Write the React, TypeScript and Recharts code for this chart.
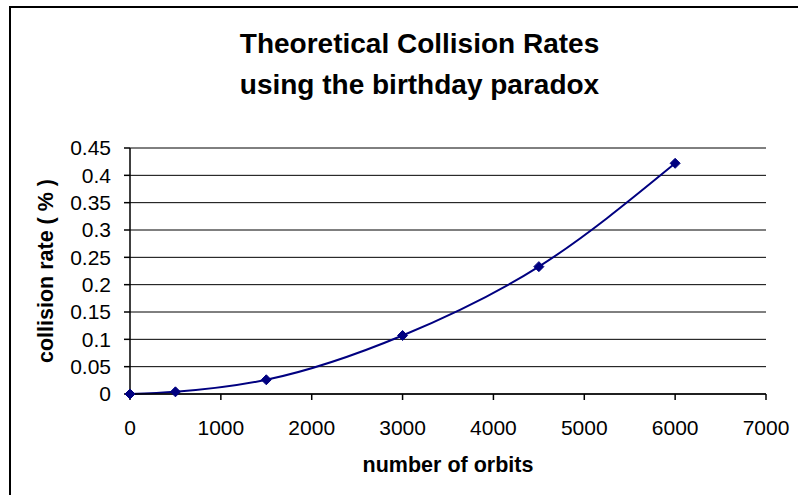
import { LineChart, Line, XAxis, YAxis, CartesianGrid, Label } from 'recharts';

const orbits = [0, 500, 1500, 3000, 4500, 6000];
const collisionRate = [0, 0.004, 0.026, 0.107, 0.233, 0.422];
const xTicks = [0, 1000, 2000, 3000, 4000, 5000, 6000, 7000];
const yTicks = [0, 0.05, 0.1, 0.15, 0.2, 0.25, 0.3, 0.35, 0.4, 0.45];
const titleLines = ['Theoretical Collision Rates', 'using the birthday paradox'];

const FONT = '"Liberation Sans", Arial, sans-serif';
const NAVY = '#000080';

const chartData = orbits.map((n, i) => ({ orbits: n, rate: collisionRate[i] }));

// diamond marker like the old Excel series marker
const Diamond = (props: { cx?: number; cy?: number; index?: number }) => {
  const { cx, cy, index } = props;
  if (cx == null || cy == null) return null;
  const r = 5;
  return (
    <polygon
      key={`d-${index}`}
      points={`${cx},${cy - r} ${cx + r},${cy} ${cx},${cy + r} ${cx - r},${cy}`}
      fill={NAVY}
      stroke={NAVY}
      strokeWidth={1}
    />
  );
};

export default function App() {
  return (
    <div
      style={{
        position: 'relative',
        width: 798,
        height: 495,
        overflow: 'hidden',
        background: '#fff',
        fontFamily: FONT,
      }}
    >
      <style>{'body{margin:0}'}</style>
      {/* chart frame, its right and bottom edges fall outside the picture */}
      <div
        style={{
          position: 'absolute',
          left: 9,
          top: 6,
          width: 820,
          height: 520,
          border: '2px solid #000',
          boxSizing: 'border-box',
        }}
      />
      <div
        style={{
          position: 'absolute',
          left: 0,
          top: 23,
          width: 839,
          textAlign: 'center',
          fontSize: 28,
          fontWeight: 'bold',
          lineHeight: '41px',
          color: '#000',
        }}
      >
        {titleLines.map(t => (
          <div key={t}>{t}</div>
        ))}
      </div>
      <div style={{ position: 'absolute', left: 0, top: 0 }}>
        <LineChart
          width={798}
          height={495}
          data={chartData}
          margin={{ top: 148, right: 32, left: 10, bottom: 41 }}
        >
          <CartesianGrid horizontal vertical={false} stroke="#000" strokeWidth={1} />
          <XAxis
            type="number"
            dataKey="orbits"
            domain={[0, 7000]}
            ticks={xTicks}
            interval={0}
            height={60}
            stroke="#000"
            strokeWidth={1.5}
            tickSize={6}
            tickMargin={20}
            tick={{ fill: '#000', fontSize: 21, fontFamily: FONT }}
          >
            <Label
              content={({ viewBox }: any) => (
                <text
                  x={viewBox.x + viewBox.width / 2}
                  y={viewBox.y + 78}
                  textAnchor="middle"
                  fontSize={21.5}
                  fontWeight="bold"
                  fontFamily={FONT}
                  fill="#000"
                >
                  number of orbits
                </text>
              )}
            />
          </XAxis>
          <YAxis
            type="number"
            domain={[0, 0.45]}
            ticks={yTicks}
            interval={0}
            width={120}
            stroke="#000"
            strokeWidth={1.5}
            tickSize={6}
            tickMargin={13}
            tick={{ fill: '#000', fontSize: 21, fontFamily: FONT }}
          >
            <Label
              content={({ viewBox }: any) => {
                const cx = 46;
                const cy = viewBox.y + viewBox.height / 2;
                return (
                  <text
                    x={cx}
                    y={cy}
                    transform={`rotate(-90 ${cx} ${cy})`}
                    textAnchor="middle"
                    dominantBaseline="central"
                    fontSize={21.5}
                    fontWeight="bold"
                    fontFamily={FONT}
                    fill="#000"
                  >
                    collision rate ( % )
                  </text>
                );
              }}
            />
          </YAxis>
          <Line
            type="monotone"
            dataKey="rate"
            stroke={NAVY}
            strokeWidth={2}
            dot={<Diamond />}
            activeDot={false}
            isAnimationActive={false}
          />
        </LineChart>
      </div>
    </div>
  );
}
